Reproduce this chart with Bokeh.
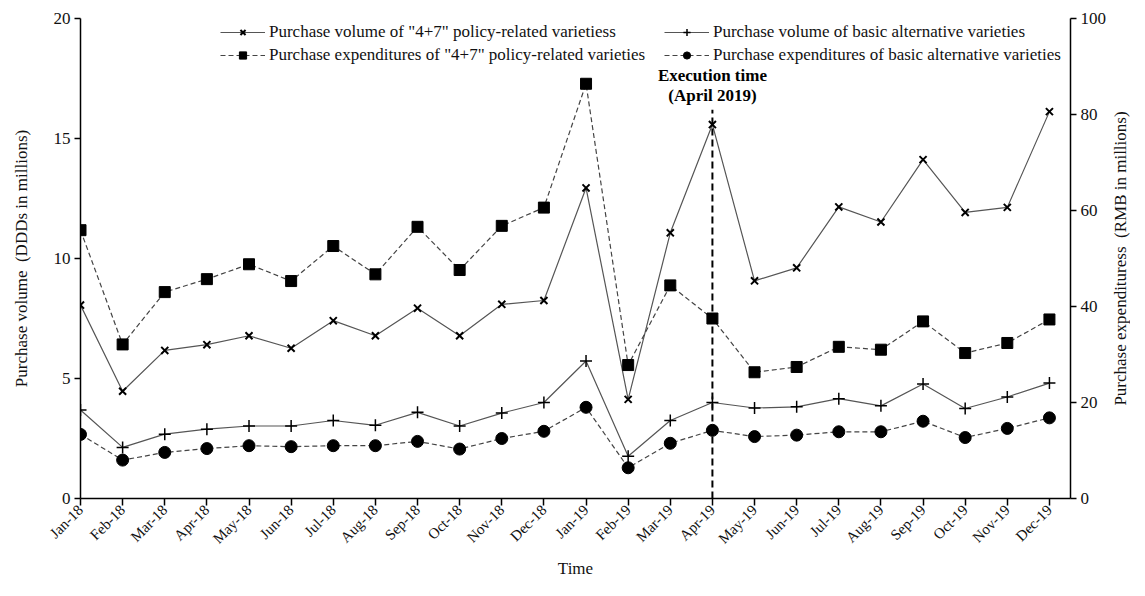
from bokeh.plotting import figure
from bokeh.models import Range1d, LinearAxis, FixedTicker, Legend, LegendItem, Label
from bokeh.layouts import row
from bokeh.embed import file_html
from bokeh.resources import INLINE
import math

months = ["Jan-18", "Feb-18", "Mar-18", "Apr-18", "May-18", "Jun-18", "Jul-18", "Aug-18",
          "Sep-18", "Oct-18", "Nov-18", "Dec-18", "Jan-19", "Feb-19", "Mar-19", "Apr-19",
          "May-19", "Jun-19", "Jul-19", "Aug-19", "Sep-19", "Oct-19", "Nov-19", "Dec-19"]

# Purchase volume (DDDs in millions) - left axis
vol_47 = [8.06, 4.47, 6.17, 6.41, 6.78, 6.26, 7.41, 6.78, 7.93, 6.78, 8.09, 8.25,
          12.94, 4.13, 11.07, 15.58, 9.07, 9.61, 12.15, 11.52, 14.12, 11.92, 12.13, 16.12]
vol_basic = [3.69, 2.13, 2.68, 2.89, 3.02, 3.02, 3.25, 3.05, 3.59, 3.02, 3.56, 4.00,
             5.73, 1.76, 3.25, 4.00, 3.77, 3.82, 4.16, 3.86, 4.77, 3.75, 4.23, 4.81]
# Purchase expenditures (RMB in millions) - right axis
exp_47 = [55.9, 32.1, 43.0, 45.7, 48.8, 45.3, 52.6, 46.7, 56.6, 47.6, 56.8, 60.6,
          86.4, 27.8, 44.4, 37.5, 26.3, 27.4, 31.6, 31.0, 36.9, 30.3, 32.4, 37.3]
exp_basic = [13.35, 8.0, 9.6, 10.4, 11.0, 10.8, 11.0, 11.0, 11.9, 10.3, 12.5, 14.0,
             19.0, 6.4, 11.5, 14.2, 12.9, 13.2, 13.9, 13.9, 16.1, 12.7, 14.6, 16.8]

left_ticks = [0, 5, 10, 15, 20]
right_ticks = [0, 20, 40, 60, 80, 100]
execution_month = "Apr-19"
execution_line_top = 16.2
annot_lines = ["Execution time", "(April 2019)"]

labels = ['Purchase volume of "4+7" policy-related varietiess',
          'Purchase volume of basic alternative varieties',
          'Purchase expenditures of "4+7" policy-related varieties',
          'Purchase expenditures of basic alternative varieties']
left_title = "Purchase volume\u00a0 (DDDs in millions)"
right_title = "Purchase expendituress\u00a0 (RMB in millions)"

FONT = "Liberation Serif"
xs = list(range(len(months)))

FW, FH = 990, 480
TOP = 18
p = figure(frame_width=FW, frame_height=FH, output_backend="svg", toolbar_location=None,
           x_range=Range1d(0, len(months) - 0.5), y_range=Range1d(0, 20),
           min_border_left=80, min_border_right=38, min_border_top=TOP, min_border_bottom=60)
p.extra_y_ranges = {"exp": Range1d(0, 100)}
p.xgrid.visible = False
p.ygrid.visible = False
p.outline_line_color = None
p.background_fill_color = "white"
p.border_fill_color = "white"

solid_col = "#555555"
dash_col = "#444444"

l1 = p.line(xs, vol_47, line_color=solid_col, line_width=1.2)
m1 = p.scatter(xs, vol_47, marker="x", size=10, line_color="black", line_width=2)
l2 = p.line(xs, vol_basic, line_color=solid_col, line_width=1.2)
m2 = p.scatter(xs, vol_basic, marker="cross", size=12, line_color="black", line_width=1.5)
l3 = p.line(xs, exp_47, line_color=dash_col, line_width=1.2, line_dash="5 3", y_range_name="exp")
m3 = p.scatter(xs, exp_47, marker="square", size=11, fill_color="black", line_color="black",
               y_range_name="exp")
l4 = p.line(xs, exp_basic, line_color=dash_col, line_width=1.2, line_dash="5 3", y_range_name="exp")
m4 = p.scatter(xs, exp_basic, marker="circle", size=12, fill_color="black", line_color="black",
               y_range_name="exp")

ex = months.index(execution_month)
p.segment(x0=[ex], y0=[0], x1=[ex], y1=[execution_line_top], line_color="black",
          line_width=2, line_dash="7 4")
p.add_layout(Label(x=ex, y=17.64, text=annot_lines[0], text_align="center", text_baseline="middle",
                   text_font=FONT, text_font_style="bold", text_font_size="17px", text_color="black"))
p.add_layout(Label(x=ex, y=16.79, text=annot_lines[1], text_align="center", text_baseline="middle",
                   text_font=FONT, text_font_style="bold", text_font_size="17px", text_color="black"))

def style_axis(ax):
    ax.axis_line_color = "black"
    ax.axis_line_width = 1.5
    ax.major_tick_line_color = "black"
    ax.major_tick_line_width = 1.5
    ax.major_tick_in = 0
    ax.major_tick_out = 6
    ax.minor_tick_line_color = None
    ax.major_label_text_font = FONT
    ax.major_label_text_font_size = "17px"
    ax.major_label_text_color = "#111111"
    ax.major_label_standoff = 4
    ax.axis_label_standoff = 4
    ax.axis_label_text_font = FONT
    ax.axis_label_text_font_size = "17px"
    ax.axis_label_text_font_style = "normal"
    ax.axis_label_text_color = "#111111"

xa = p.xaxis[0]
style_axis(xa)
xa.ticker = FixedTicker(ticks=xs)
xa.major_label_overrides = {i: m for i, m in enumerate(months)}
xa.major_label_orientation = math.pi / 4
xa.major_label_text_font_size = "15px"
xa.major_label_standoff = 2
xa.axis_label_standoff = 4
xa.axis_label = "Time"
xa.major_tick_out = 7

ya = p.yaxis[0]
style_axis(ya)
ya.ticker = FixedTicker(ticks=left_ticks)
ya.axis_label = left_title
ya.axis_label_standoff = 20

ra = LinearAxis(y_range_name="exp", ticker=FixedTicker(ticks=right_ticks))
style_axis(ra)
p.add_layout(ra, "right")

def make_legend(items, x, y):
    lg = Legend(items=items, location=(x, y), orientation="vertical")
    lg.label_text_font = FONT
    lg.label_text_font_size = "17px"
    lg.label_text_color = "#111111"
    lg.glyph_width = 45
    lg.glyph_height = 18
    lg.spacing = 3
    lg.padding = 0
    lg.margin = 0
    lg.label_standoff = 4
    lg.border_line_color = None
    lg.background_fill_alpha = 0
    return lg

legend_y = FH - 47
lgA = make_legend([LegendItem(label=labels[0], renderers=[l1, m1]),
                   LegendItem(label=labels[2], renderers=[l3, m3])], 140, legend_y)
lgB = make_legend([LegendItem(label=labels[1], renderers=[l2, m2]),
                   LegendItem(label=labels[3], renderers=[l4, m4])], 584, legend_y)
p.add_layout(lgA)
p.add_layout(lgB)

# narrow side panel carrying the right axis title, reading bottom-to-top
side = figure(frame_width=21, frame_height=FH, output_backend="svg", toolbar_location=None,
              x_range=Range1d(0, 1), y_range=Range1d(0, 1), x_axis_location=None,
              y_axis_location=None, min_border_left=0, min_border_right=0,
              min_border_top=TOP, min_border_bottom=0)
side.xgrid.visible = False
side.ygrid.visible = False
side.outline_line_color = None
side.border_fill_color = "white"
side.add_layout(Label(x=0.5, y=0.5, text=right_title, angle=math.pi / 2, text_align="center",
                      text_baseline="middle", text_font=FONT, text_font_size="17px",
                      text_color="#111111"))

layout = row(p, side)
open("out.html", "w").write(file_html(layout, INLINE))
